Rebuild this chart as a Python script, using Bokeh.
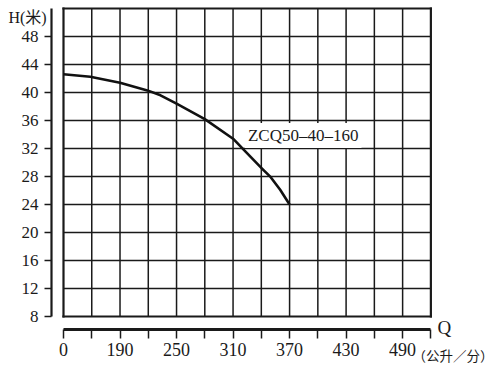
from bokeh.plotting import figure
from bokeh.models import Range1d, FixedTicker, Label, LinearAxis
from bokeh.embed import file_html
from bokeh.resources import INLINE

# ---- data ----
# x axis is broken: label "0" sits where 130 would be, then 190, 250, ... (30 per cell)
x_tick_pos = [130, 160, 190, 220, 250, 280, 310, 340, 370, 400, 430, 460, 490, 520]
x_tick_labels = ["0", "", "190", "", "250", "", "310", "", "370", "", "430", "", "490", ""]
y_ticks = [8, 12, 16, 20, 24, 28, 32, 36, 40, 44, 48]
y_grid = [8, 12, 16, 20, 24, 28, 32, 36, 40, 44, 48, 52]

# pump curve ZCQ50-40-160, Q in 公升/分, H in 米
curve_q = [0, 90, 190, 219, 233, 250, 280, 310, 323, 341, 350, 360, 370]
curve_h = [42.6, 42.25, 41.4, 40.3, 39.6, 38.4, 36.2, 33.4, 31.6, 29.1, 27.9, 26.1, 24.0]
curve_name = "ZCQ50–40–160"


def q_to_axis(q):
    # broken axis: 0..190 compressed into the first two cells
    return 130 + q * 60.0 / 190.0 if q < 190 else q


curve_x = [q_to_axis(q) for q in curve_q]

SERIF = "Liberation Serif, Noto Sans CJK SC"
INK = "#1a1a1a"

W, H = 496, 366
PX_X = 0.942   # px per Q unit
PX_Y = 7.0     # px per H unit
x0 = 130 - 63 / PX_X
y1 = 48 + 36 / PX_Y

p = figure(width=W, height=H, output_backend="svg", toolbar_location=None,
           x_range=Range1d(x0, x0 + W / PX_X), y_range=Range1d(y1 - H / PX_Y, y1),
           x_axis_location=None, y_axis_location=None,
           min_border=0, min_border_left=0, min_border_right=0, min_border_top=0, min_border_bottom=0)
p.outline_line_color = None
p.background_fill_color = "white"
p.border_fill_color = "white"
p.xgrid.visible = False
p.ygrid.visible = False

# grid lines from the tick arrays
gx_lo, gx_hi = x_tick_pos[0], x_tick_pos[-1]
gy_lo, gy_hi = y_grid[0], y_grid[-1]
inner_x = x_tick_pos[1:-1]
inner_y = y_grid[1:-1]
p.segment(x0=inner_x, x1=inner_x, y0=[gy_lo] * len(inner_x), y1=[gy_hi] * len(inner_x),
          line_color=INK, line_width=1.5)
p.segment(x0=[gx_lo] * len(inner_y), x1=[gx_hi] * len(inner_y), y0=inner_y, y1=inner_y,
          line_color=INK, line_width=1.5)
# heavier box border
p.segment(x0=[gx_lo, gx_hi], x1=[gx_lo, gx_hi], y0=[gy_lo, gy_lo], y1=[gy_hi, gy_hi],
          line_color=INK, line_width=2.2, line_cap="square")
p.segment(x0=[gx_lo, gx_lo], x1=[gx_hi, gx_hi], y0=[gy_lo, gy_hi], y1=[gy_lo, gy_hi],
          line_color=INK, line_width=2.2, line_cap="square")

# x axis (detached below the grid)
xa = LinearAxis(fixed_location=48 - (329 - 36) / PX_Y)
xa.ticker = FixedTicker(ticks=x_tick_pos)
xa.major_label_overrides = {t: l for t, l in zip(x_tick_pos, x_tick_labels)}
xa.bounds = (130, 520)
xa.axis_line_width = 2.8
xa.axis_line_color = INK
xa.major_tick_out = 9
xa.major_tick_in = 0
xa.major_tick_line_width = 1.5
xa.major_tick_line_color = INK
xa.minor_tick_line_color = None
xa.major_label_standoff = 4
xa.major_label_text_font = SERIF
xa.major_label_text_font_size = "18px"
xa.major_label_text_color = INK
p.add_layout(xa, "below")

# y axis (detached left of the grid)
ya = LinearAxis(fixed_location=130 - 12 / PX_X)
ya.ticker = FixedTicker(ticks=y_ticks)
ya.bounds = (8, 52)
ya.axis_line_width = 2.2
ya.axis_line_color = INK
ya.major_tick_out = 7
ya.major_tick_in = 0
ya.major_tick_line_width = 1.5
ya.major_tick_line_color = INK
ya.minor_tick_line_color = None
ya.major_label_standoff = 6
ya.major_label_text_font = SERIF
ya.major_label_text_font_size = "17px"
ya.major_label_text_color = INK
p.add_layout(ya, "left")

# curve (drawn above the label box)
curve = p.line(curve_x, curve_h, line_color="#111111", line_width=2.6, line_join="round")
curve.level = "overlay"

# labels
p.add_layout(Label(x=384.5, y=33.86, text=curve_name, text_align="center", text_baseline="middle",
                   text_font=SERIF, text_font_size="17px", text_color=INK,
                   background_fill_color="white", padding=3))
p.add_layout(Label(x=71.5, y=50.7, text="H(米)", text_align="left", text_baseline="middle",
                   text_font=SERIF, text_font_size="16px", text_color=INK))
p.add_layout(Label(x=527.0, y=6.43, text="Q", text_align="left", text_baseline="middle",
                   text_font=SERIF, text_font_size="19px", text_color=INK))
p.add_layout(Label(x=500.5, y=2.43, text="（公升／分）", text_align="left", text_baseline="middle",
                   text_font="Noto Sans CJK SC", text_font_size="13.5px", text_color=INK))

open("out.html", "w").write(file_html(p, INLINE))
